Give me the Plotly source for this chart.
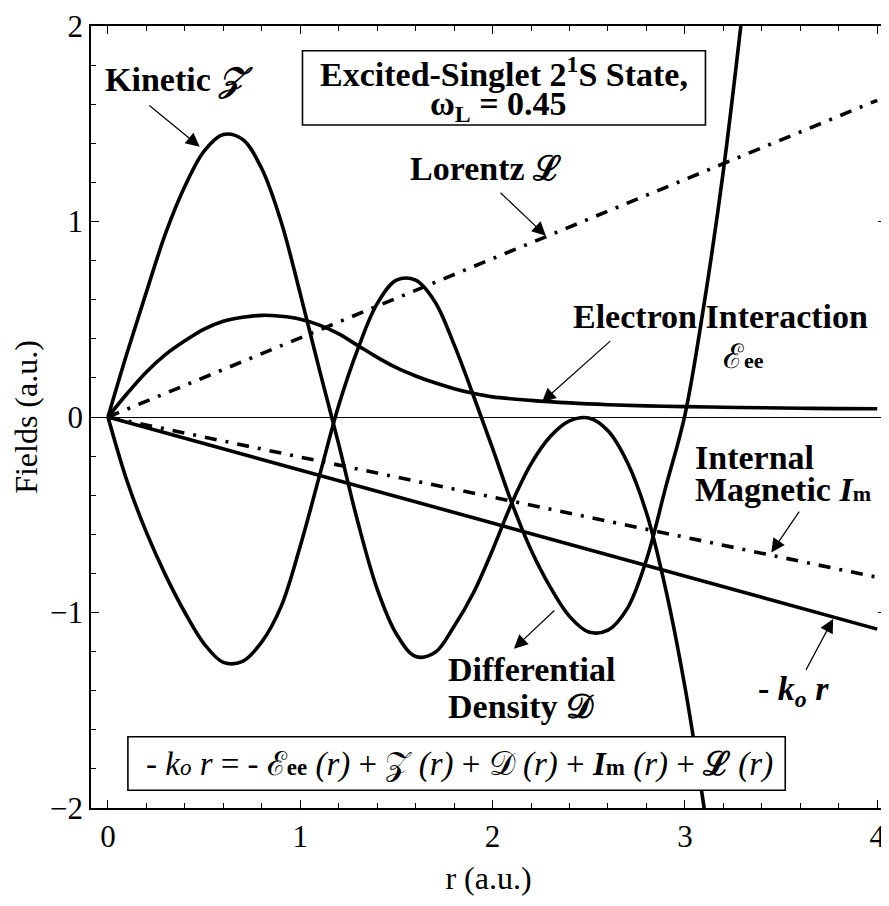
import plotly.graph_objects as go

# ---------------- data ----------------
r_kin = [0.0, 0.1, 0.2, 0.3, 0.4, 0.5, 0.6, 0.7, 0.8, 0.9, 1.0, 1.1, 1.2, 1.3,
         1.4, 1.5, 1.6, 1.7, 1.8, 1.9, 2.0, 2.1, 2.2, 2.3, 2.4, 2.5, 2.6, 2.7,
         2.8, 2.9, 3.0, 3.1, 3.2]
kinetic_z = [0.0, 0.33, 0.64, 0.94, 1.18, 1.36, 1.445, 1.42, 1.27, 1.0, 0.63, 0.24,
             -0.14, -0.54, -0.88, -1.11, -1.225, -1.205, -1.07, -0.90, -0.68, -0.44,
             -0.24, -0.10, -0.02, -0.005, -0.07, -0.23, -0.49, -0.88, -1.38, -2.0, -2.7]

r_dens = [0.0, 0.1, 0.2, 0.3, 0.4, 0.5, 0.6, 0.7, 0.8, 0.9, 1.0, 1.1, 1.2, 1.3,
          1.4, 1.5, 1.6, 1.7, 1.8, 1.9, 2.0, 2.1, 2.2, 2.3, 2.4, 2.5, 2.6, 2.7,
          2.8, 2.9, 3.0, 3.1, 3.2, 3.3]
density_d = [0.0, -0.33, -0.59, -0.81, -1.0, -1.16, -1.255, -1.25, -1.15, -0.97,
             -0.66, -0.30, 0.06, 0.35, 0.58, 0.70, 0.70, 0.59, 0.37, 0.11, -0.16,
             -0.44, -0.68, -0.87, -1.02, -1.10, -1.09, -0.98, -0.73, -0.36, 0.01,
             0.58, 1.26, 2.08]

r_ee = [0.0, 0.1, 0.2, 0.3, 0.4, 0.5, 0.6, 0.7, 0.8, 0.9, 1.0, 1.1, 1.2, 1.3, 1.4,
        1.5, 1.6, 1.7, 1.8, 1.9, 2.0, 2.2, 2.4, 2.6, 2.8, 3.0, 3.2, 3.4, 3.6, 3.8, 4.0]
electron_ee = [0.0, 0.12, 0.23, 0.32, 0.39, 0.45, 0.49, 0.51, 0.52, 0.515, 0.50,
               0.47, 0.425, 0.365, 0.305, 0.252, 0.21, 0.175, 0.145, 0.121, 0.103,
               0.085, 0.072, 0.063, 0.057, 0.053, 0.05, 0.047, 0.045, 0.043, 0.042]

r_lin = [0.0, 4.0]
lorentz_l = [0.0, 1.62]
magnetic_im = [0.0, -0.82]
minus_kor = [0.0, -1.085]

x_tick_vals = [0, 1, 2, 3, 4]
x_tick_text = ["0", "1", "2", "3", "4"]
y_tick_vals = [-2, -1, 0, 1, 2]
y_tick_text = ["\u22122", "\u22121", "0", "1", "2"]

# ---------------- helpers: reference pixel -> data for label placement ----------------
def dx(p):
    return (p - 108) / 192.8


def dy(p):
    return (413 - p) / 197.5


SERIF = "Liberation Serif"
LW = 3.6
DASHDOT = "12px,9px,3px,9px"

fig = go.Figure()
for xs, ys in [(r_kin, kinetic_z), (r_dens, density_d), (r_ee, electron_ee)]:
    fig.add_trace(go.Scatter(x=xs, y=ys, mode="lines",
                             line=dict(color="black", width=LW, shape="spline", smoothing=1.0),
                             showlegend=False))
fig.add_trace(go.Scatter(x=r_lin, y=lorentz_l, mode="lines",
                         line=dict(color="black", width=LW, dash=DASHDOT), showlegend=False))
fig.add_trace(go.Scatter(x=r_lin, y=magnetic_im, mode="lines",
                         line=dict(color="black", width=LW, dash=DASHDOT), showlegend=False))
fig.add_trace(go.Scatter(x=r_lin, y=minus_kor, mode="lines",
                         line=dict(color="black", width=LW), showlegend=False))

# boxes
fig.add_shape(type="rect", xref="x", yref="y", x0=dx(303), x1=dx(707), y0=dy(118), y1=dy(43),
              line=dict(color="black", width=1.6), fillcolor="white", layer="above")
fig.add_shape(type="rect", xref="x", yref="y", x0=dx(128), x1=dx(787), y0=dy(790), y1=dy(736),
              line=dict(color="black", width=1.6), fillcolor="white", layer="above")


def label(text, xp, yp, anchor="center", size=34):
    fig.add_annotation(x=dx(xp), y=dy(yp), xref="x", yref="y", text=text, showarrow=False,
                       xanchor=anchor, yanchor="middle",
                       font=dict(family=SERIF, size=size, color="black"))


def arrow(tail, tip):
    fig.add_annotation(x=dx(tip[0]), y=dy(tip[1]), ax=dx(tail[0]), ay=dy(tail[1]),
                       xref="x", yref="y", axref="x", ayref="y", text="",
                       showarrow=True, arrowhead=2, arrowsize=2.3, arrowwidth=1.2,
                       arrowcolor="black", standoff=0, startstandoff=0)


label("<b>Kinetic <i>\U0001D4B5</i></b>", 103, 73, anchor="left")
label("<b>Excited-Singlet 2<sup>1</sup>S State,</b>", 505, 64)
label("<b>\u03C9<sub>L</sub> = 0.45</b>", 500, 99)
label("<b>Lorentz \u2112</b>", 486, 162)
label("<b>Electron Interaction</b>", 722, 311)
label("\u2130<span style='font-size:22px'><b>ee</b></span>", 745, 352)
label("<b>Internal</b>", 695, 454, anchor="left")
label("<b>Magnetic <i>I</i></b><span style='font-size:22px'><b>m</b></span>", 695, 486, anchor="left")
label("<b>Differential</b>", 447, 668, anchor="left")
label("<b>Density \U0001D49F</b>", 447, 705, anchor="left")
label("<b>- <i>k<sub>o</sub> r</i></b>", 795, 690)
label("- <i>k</i><span style='font-size:23px'><i>o</i></span> <i>r</i> = - \u2130"
      "<span style='font-size:23px'><b>ee</b></span> <i>(r)</i> + \U0001D4B5 <i>(r)</i> + "
      "\U0001D49F <i>(r)</i> + <b><i>I</i></b><span style='font-size:23px'><b>m</b></span> "
      "<i>(r)</i> + <b>\u2112</b> <i>(r)</i>", 460, 764, size=33)

arrow((148, 97), (200, 140))
arrow((500, 185), (547, 230))
arrow((613, 335), (543, 398))
arrow((802, 507), (773, 550))
arrow((557, 607), (515, 647))
arrow((807, 670), (835, 617))

# the page adds an 8px body margin, so the figure is drawn 8px smaller
fig.update_layout(
    width=881, height=898,
    margin=dict(l=83, r=1, t=10, b=98),
    paper_bgcolor="white", plot_bgcolor="white",
    font=dict(family=SERIF, size=31, color="black"),
)
fig.update_xaxes(
    range=[dx(91), dx(888)], tickvals=x_tick_vals, ticktext=x_tick_text,
    ticks="inside", ticklen=8, tickwidth=1.3, tickcolor="black",
    minor=dict(dtick=0.2, tick0=0, ticks="inside", ticklen=5, tickwidth=1.1, tickcolor="black"),
    showline=True, linecolor="black", linewidth=1.6, mirror="ticks",
    showgrid=False, zeroline=False, ticklabeloverflow="allow",
    tickfont=dict(family=SERIF, size=31, color="black"),
    title=dict(text="r (a.u.)", font=dict(family=SERIF, size=32, color="black"), standoff=14),
)
fig.update_yaxes(
    range=[-2, 2], tickvals=y_tick_vals, ticktext=y_tick_text,
    ticks="inside", ticklen=8, tickwidth=1.3, tickcolor="black",
    minor=dict(dtick=0.2, tick0=0, ticks="inside", ticklen=5, tickwidth=1.1, tickcolor="black"),
    showline=True, linecolor="black", linewidth=1.6, mirror="ticks",
    showgrid=False, zeroline=True, zerolinecolor="black", zerolinewidth=1.4,
    ticklabeloverflow="allow",
    tickfont=dict(family=SERIF, size=31, color="black"),
    title=dict(text="Fields (a.u.)", font=dict(family=SERIF, size=32, color="black"), standoff=6),
)

fig.write_html("out.html")
